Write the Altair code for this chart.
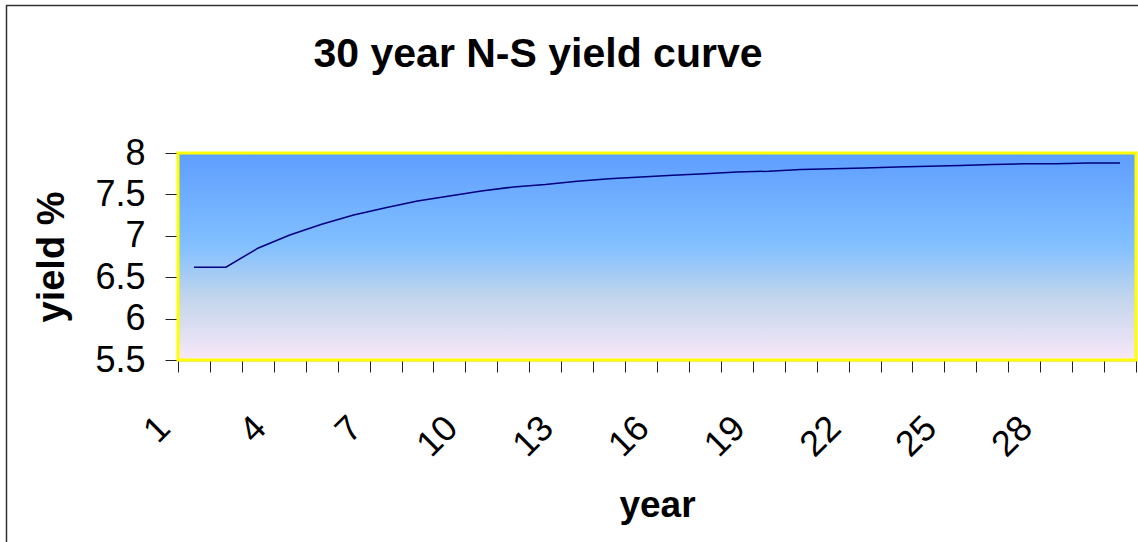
import altair as alt
import pandas as pd

# Nelson-Siegel fitted yields, maturities 1..30 years
years = list(range(1, 31))
yields = [6.62, 6.62, 6.85, 7.01, 7.14, 7.25, 7.34, 7.42, 7.48, 7.54,
          7.59, 7.62, 7.66, 7.69, 7.71, 7.73, 7.75, 7.77, 7.78, 7.80,
          7.81, 7.82, 7.83, 7.84, 7.85, 7.86, 7.87, 7.87, 7.88, 7.88]
y_ticks = [5.5, 6, 6.5, 7, 7.5, 8]
title_text = "30 year N-S yield curve"

W, H = 958, 207
LEFT, TOP = 178, 153
FONT = "Liberation Sans"

df = pd.DataFrame({"year": years, "yield": yields})
one = pd.DataFrame({"k": [0]})

x_enc = alt.X(
    "year:O",
    sort="ascending",
    scale=alt.Scale(type="band", paddingInner=0, paddingOuter=0),
    axis=alt.Axis(
        title="year",
        tickBand="extent",
        tickSize=12,
        tickColor="#222222",
        domainColor="#555555",
        domainWidth=1.5,
        labelAngle=-45,
        labelAlign="right",
        labelBaseline="middle",
        labelPadding=50,
        labelOffset=-30,
        labelFontSize=36,
        labelFont=FONT,
        labelColor="black",
        labelExpr="(datum.value - 1) % 3 == 0 ? datum.label : ''",
        titleFont=FONT,
        titleFontSize=37,
        titleFontWeight="bold",
        titleColor="black",
        titleX=W / 2,
        titleY=516 - TOP - H,
        titleAlign="center",
        titleBaseline="alphabetic",
        grid=False,
    ),
)

y_enc = alt.Y(
    "yield:Q",
    scale=alt.Scale(domain=[5.5, 8], nice=False, zero=False),
    axis=alt.Axis(
        title="yield %",
        values=y_ticks,
        format="~g",
        tickSize=13,
        tickColor="#222222",
        domainColor="#555555",
        labelPadding=20,
        labelFontSize=36,
        labelFont=FONT,
        labelColor="black",
        titleFont=FONT,
        titleFontSize=38,
        titleFontWeight="bold",
        titleColor="black",
        titleAngle=-90,
        titleX=-126,
        titleY=H / 2,
        titleAlign="center",
        titleBaseline="middle",
        grid=False,
    ),
)

# plot-area gradient fill
backdrop = alt.Chart(one).mark_rect(
    fill=alt.Gradient(
        gradient="linear",
        x1=0, x2=0, y1=0, y2=1,
        stops=[
            alt.GradientStop(color="#5E9EFF", offset=0),
            alt.GradientStop(color="#82C0FF", offset=0.45),
            alt.GradientStop(color="#C2D5EC", offset=0.7),
            alt.GradientStop(color="#F8E8F8", offset=1),
        ],
    ),
    stroke="#FFFF00",
    strokeWidth=3,
).encode(
    x=alt.value(0), x2=alt.value(W), y=alt.value(0), y2=alt.value(H)
)

curve = alt.Chart(df).mark_line(color="#000080", strokeWidth=1.5).encode(
    x=x_enc, y=y_enc
)

title = alt.Chart(one).mark_text(
    text=title_text,
    font=FONT,
    fontSize=41,
    fontWeight="bold",
    color="black",
    align="center",
    baseline="alphabetic",
).encode(x=alt.value(538 - LEFT), y=alt.value(67 - TOP))

# chart-area frame (top and left edges)
frame_top = alt.Chart(one).mark_rule(color="#333333", strokeWidth=1.5).encode(
    x=alt.value(6 - LEFT), x2=alt.value(1138 - LEFT + 2), y=alt.value(5.5 - TOP)
)
frame_left = alt.Chart(one).mark_rule(color="#333333", strokeWidth=1.5).encode(
    x=alt.value(6.5 - LEFT), y=alt.value(5 - TOP), y2=alt.value(542 - TOP + 2)
)

chart = (
    alt.layer(backdrop, curve, title, frame_top, frame_left)
    .properties(
        width=W,
        height=H,
        autosize=alt.AutoSizeParams(type="none"),
        padding={"left": LEFT, "top": TOP, "right": 1138 - LEFT - W, "bottom": 542 - TOP - H},
        background="white",
    )
    .configure_view(stroke=None)
)

chart.save("out.html", embed_options={"renderer": "svg", "actions": False})
